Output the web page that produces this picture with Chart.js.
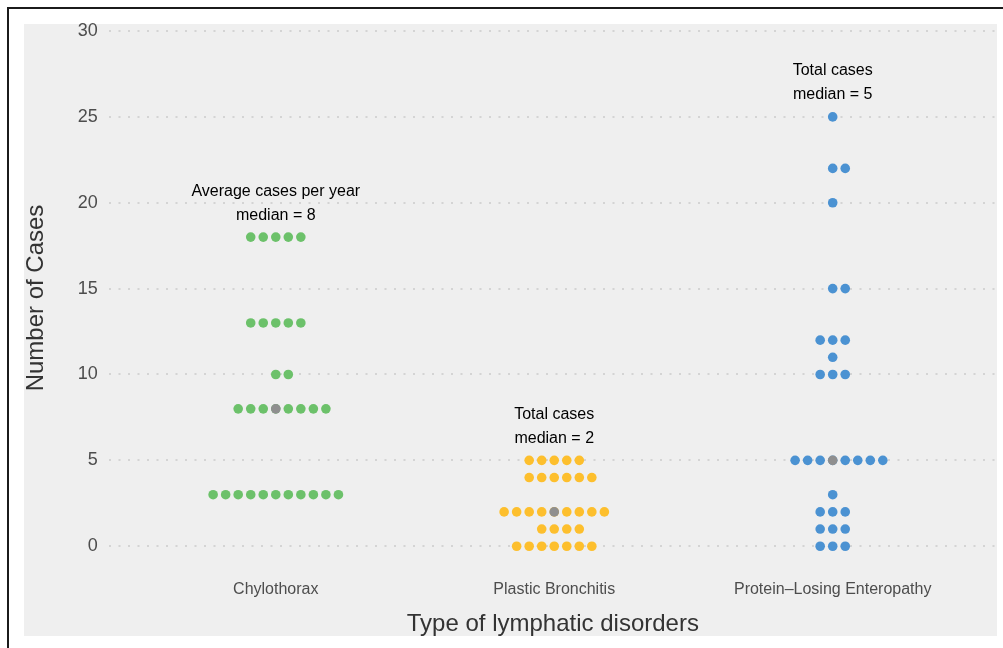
<!DOCTYPE html>
<html>
<head>
<meta charset="utf-8">
<script src="https://cdn.jsdelivr.net/npm/chart.js@4/dist/chart.umd.min.js"></script>
<style>
  html, body { margin: 0; padding: 0; background: #fff; }
  canvas { display: block; }
</style>
</head>
<body>
<canvas id="chart" width="1003" height="648"></canvas>
<script>
// categories and the raw case counts
const categories = ['Chylothorax', 'Plastic Bronchitis', 'Protein\u2013Losing Enteropathy'];

const chylothoraxCases = [
  3, 3, 3, 3, 3, 3, 3, 3, 3, 3, 3,
  8, 8, 8, 8, 8, 8, 8, 8,
  10, 10,
  13, 13, 13, 13, 13,
  18, 18, 18, 18, 18
];
const plasticBronchitisCases = [
  0, 0, 0, 0, 0, 0, 0,
  1, 1, 1, 1,
  2, 2, 2, 2, 2, 2, 2, 2, 2,
  4, 4, 4, 4, 4, 4,
  5, 5, 5, 5, 5
];
const pleCases = [
  0, 0, 0,
  1, 1, 1,
  2, 2, 2,
  3,
  5, 5, 5, 5, 5, 5, 5, 5,
  10, 10, 10,
  11,
  12, 12, 12,
  15, 15,
  20,
  22, 22,
  25
];

const noteTitles = ['Average cases per year', 'Total cases', 'Total cases'];
const yTickValues = [0, 5, 10, 15, 20, 25, 30];

const seriesColors = ['#6cc16a', '#fdbf2d', '#4b92d2'];
const medianColor = '#8f8f8f';
const FONT = '"Liberation Sans", Arial, sans-serif';
const DOT_STEP = 0.045; // horizontal gap between stacked dots, in category units

const allCases = [chylothoraxCases, plasticBronchitisCases, pleCases];

function median(values) {
  const s = values.slice().sort((a, b) => a - b);
  const m = Math.floor(s.length / 2);
  return s.length % 2 ? s[m] : (s[m - 1] + s[m]) / 2;
}

// lay equal values out side by side, like a centred dotplot
function dotRows(values, catIndex) {
  const counts = new Map();
  values.forEach(v => counts.set(v, (counts.get(v) || 0) + 1));
  const pts = [];
  counts.forEach((n, v) => {
    const start = -Math.floor((n - 1) / 2);
    for (let i = 0; i < n; i++) {
      pts.push({ x: catIndex + 1 + (start + i) * DOT_STEP, y: v });
    }
  });
  return pts;
}

const medians = allCases.map(median);

const datasets = allCases.map((vals, i) => ({
  label: categories[i],
  data: dotRows(vals, i),
  order: 1,
  pointRadius: 4.8,
  pointHoverRadius: 4.8,
  pointBorderWidth: 0,
  pointBackgroundColor: seriesColors[i],
  showLine: false
}));
// median marker goes on top of the coloured dots
datasets.push({
  label: 'median',
  data: medians.map((m, i) => ({ x: i + 1, y: m })),
  order: 0,
  pointRadius: 4.8,
  pointHoverRadius: 4.8,
  pointBorderWidth: 0,
  pointBackgroundColor: medianColor,
  showLine: false
});

const framePlugin = {
  id: 'frame',
  beforeDraw(chart) {
    const ctx = chart.ctx;
    ctx.save();
    ctx.fillStyle = '#fff';
    ctx.fillRect(0, 0, chart.width, chart.height);
    ctx.fillStyle = '#efefef';
    ctx.fillRect(24, 24, 973, 612);
    ctx.fillStyle = '#1b1b1b';
    ctx.fillRect(7, 7, chart.width - 7, 2);
    ctx.fillRect(7, 7, 2, chart.height - 7);
    ctx.restore();
  }
};

const notesPlugin = {
  id: 'notes',
  afterDatasetsDraw(chart) {
    const { ctx, scales: { x, y } } = chart;
    ctx.save();
    ctx.font = '16px ' + FONT;
    ctx.fillStyle = '#000';
    ctx.textAlign = 'center';
    ctx.textBaseline = 'middle';
    allCases.forEach((vals, i) => {
      const cx = x.getPixelForValue(i + 1);
      const top = y.getPixelForValue(Math.max(...vals));
      ctx.fillText(noteTitles[i], cx, top - 46);
      ctx.fillText('median = ' + medians[i], cx, top - 22);
    });
    ctx.restore();
  }
};

new Chart(document.getElementById('chart'), {
  type: 'scatter',
  data: { datasets },
  options: {
    responsive: false,
    animation: false,
    events: [],
    layout: { padding: { top: 24, right: 6, left: 0, bottom: 0 } },
    plugins: { legend: { display: false }, tooltip: { enabled: false } },
    scales: {
      x: {
        type: 'linear',
        min: 0.4,
        max: 3.59,
        afterBuildTicks: s => { s.ticks = categories.map((c, i) => ({ value: i + 1 })); },
        afterFit: s => { s.height = 76; },
        grid: { display: false, drawTicks: false },
        border: { display: false },
        ticks: {
          callback: v => categories[v - 1],
          font: { family: FONT, size: 16 },
          color: '#4d4d4d',
          padding: 8,
          maxRotation: 0
        },
        title: {
          display: true,
          text: 'Type of lymphatic disorders',
          font: { family: FONT, size: 24 },
          color: '#333',
          padding: { top: 0, bottom: 9 }
        }
      },
      y: {
        min: -1.5,
        max: 30.408,
        afterBuildTicks: s => { s.ticks = yTickValues.map(v => ({ value: v })); },
        afterFit: s => { s.width = 108.7; },
        grid: { color: '#d4d4d4', lineWidth: 2, drawTicks: false },
        border: { display: false, dash: [2, 7.5] },
        ticks: {
          font: { family: FONT, size: 18 },
          color: '#4d4d4d',
          padding: 11
        },
        title: {
          display: true,
          text: 'Number of Cases',
          font: { family: FONT, size: 24 },
          color: '#333',
          padding: { top: 21.5, bottom: 0 }
        }
      }
    }
  },
  plugins: [framePlugin, notesPlugin]
});
</script>
</body>
</html>
